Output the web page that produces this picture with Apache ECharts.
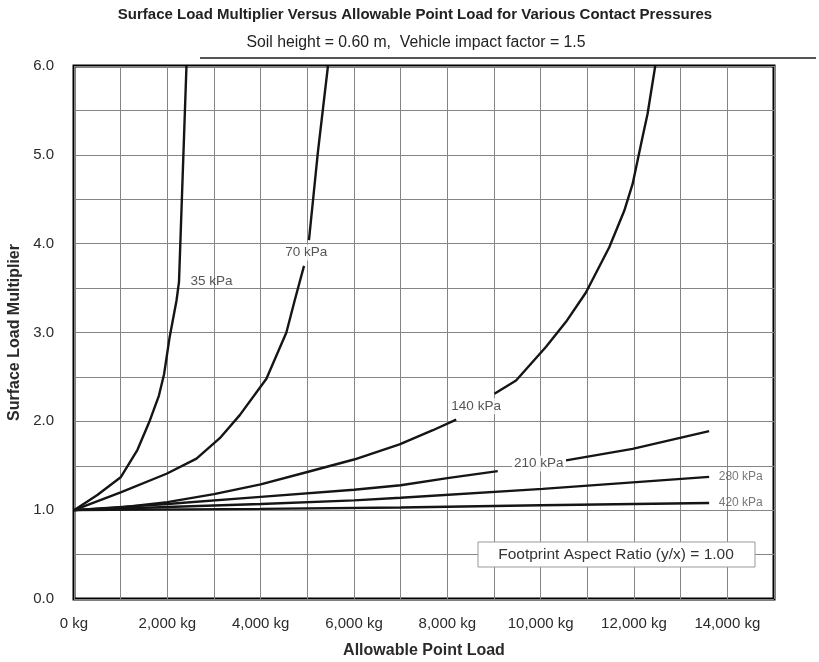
<!DOCTYPE html>
<html>
<head>
<meta charset="utf-8">
<script src="https://cdn.jsdelivr.net/npm/echarts@6/dist/echarts.min.js"></script>
<style>
html,body{margin:0;padding:0;background:#fff;}
#chart{width:819px;height:662px;}
</style>
</head>
<body>
<div id="chart"></div>
<script>
// ---- data ----
const GAP = null; // break in a curve where a label sits
const curveNames = ['35 kPa', '70 kPa', '140 kPa', '210 kPa', '280 kPa', '420 kPa'];
const c35 = [[0,1.0],[500,1.17],[1000,1.37],[1360,1.68],[1626,2.01],[1820,2.29],[1930,2.53],[2050,2.95],[2197,3.36],[2250,3.57],[2410,6.0]];
const c70 = [[0,1.0],[1000,1.2],[1983,1.41],[2625,1.58],[3124,1.81],[3552,2.07],[4123,2.48],[4551,3.0],[4729,3.36],[4929,3.75],GAP,[5035,4.04],[5228,5.04],[5442,6.0]];
const c140 = [[0,1.0],[1000,1.03],[2000,1.09],[3000,1.18],[4000,1.29],[5000,1.43],[6000,1.57],[6976,1.74],[7690,1.90],[8190,2.02],GAP,[9009,2.31],[9473,2.46],[10116,2.84],[10543,3.12],[10970,3.45],[11470,3.96],[11791,4.37],[11969,4.67],[12183,5.2],[12290,5.46],[12455,6.0]];
const c210 = [[0,1.0],[2000,1.07],[4000,1.15],[6000,1.23],[7000,1.28],[8000,1.36],[9080,1.44],GAP,[10543,1.56],[11969,1.69],[13610,1.89]];
const c280 = [[0,1.0],[2000,1.035],[4000,1.07],[6000,1.11],[7000,1.14],[10043,1.24],[13610,1.375]];
const c420 = [[0,1.0],[4000,1.015],[7000,1.03],[10000,1.055],[13610,1.08]];
const curves = [c35, c70, c140, c210, c280, c420];
// label anchor points (in data units: kg, multiplier)
const labelAnchors = [[2947,3.58],[4979,3.9],[8617,2.17],[9957,1.525],[14287,1.374],[14287,1.086]];
const xTicks = [0, 2000, 4000, 6000, 8000, 10000, 12000, 14000];
const yTicks = [0, 1, 2, 3, 4, 5, 6];
const titleText = 'Surface Load Multiplier Versus Allowable Point Load for Various Contact Pressures';
const subtitleText = 'Soil height = 0.60 m,  Vehicle impact factor = 1.5';
const noteText = 'Footprint Aspect Ratio (y/x) = 1.00';

// ---- chart ----
const FONT = 'Liberation Sans, Arial, sans-serif';
const chart = echarts.init(document.getElementById('chart'), null, {renderer: 'canvas'});

const lineSeries = curves.map((pts, i) => ({
  name: curveNames[i],
  type: 'line',
  data: pts.map(p => p === null ? ['-', '-'] : p),
  showSymbol: false,
  symbol: 'none',
  connectNulls: false,
  smooth: false,
  lineStyle: {color: '#151515', width: 2.4},
  z: 3,
  silent: true
}));

const labelSeries = {
  type: 'scatter',
  symbolSize: 0,
  z: 5,
  silent: true,
  data: labelAnchors.map((p, i) => {
    const small = i >= 4;
    return {
      name: curveNames[i],
      value: p,
      label: {
        show: true,
        position: 'inside',
        formatter: '{b}',
        fontFamily: FONT,
        fontSize: small ? 12 : 13.5,
        color: small ? '#555' : '#2a2a2a',
        backgroundColor: (i >= 1 && i <= 3) ? '#fff' : 'transparent',
        padding: [1, 2]
      }
    };
  })
};

const option = {
  backgroundColor: '#fff',
  animation: false,
  textStyle: {fontFamily: FONT},
  grid: {left: 74, right: 45, top: 66, bottom: 63, outerBoundsMode: 'none', containLabel: false, show: true, borderColor: '#000', borderWidth: 3, backgroundColor: 'transparent'},
  xAxis: {
    type: 'value', min: 0, max: 15000, interval: 1000,
    axisLine: {show: false}, axisTick: {show: false},
    splitLine: {show: true, lineStyle: {color: '#858585', width: 1}},
    axisLabel: {
      margin: 17, fontSize: 15, color: '#2a2a2a', fontFamily: FONT,
      formatter: v => xTicks.indexOf(v) >= 0 ? (v === 0 ? '0 kg' : v.toLocaleString('en-US') + ' kg') : ''
    },
    name: 'Allowable Point Load', nameLocation: 'middle', nameGap: 44,
    nameTextStyle: {fontSize: 16, fontWeight: 'bold', color: '#2a2a2a', fontFamily: FONT}
  },
  yAxis: {
    type: 'value', min: 0, max: 6, interval: 0.5,
    axisLine: {show: false}, axisTick: {show: false},
    splitLine: {show: true, lineStyle: {color: '#858585', width: 1}},
    axisLabel: {
      margin: 20, fontSize: 15, color: '#2a2a2a', fontFamily: FONT,
      formatter: v => yTicks.indexOf(v) >= 0 ? v.toFixed(1) : ''
    },
    name: 'Surface Load Multiplier', nameLocation: 'middle', nameGap: 48, nameRotate: 90,
    nameTextStyle: {fontSize: 16, fontWeight: 'bold', color: '#2a2a2a', fontFamily: FONT}
  },
  graphic: [
    {type: 'text', x: 415, y: 15, style: {text: titleText, fontFamily: FONT, fontSize: 15, fontWeight: 'bold', fill: '#222', align: 'center', verticalAlign: 'middle'}},
    {type: 'text', x: 416, y: 43, style: {text: subtitleText, fontFamily: FONT, fontSize: 15.8, fill: '#222', align: 'center', verticalAlign: 'middle'}},
    {type: 'line', shape: {x1: 200, y1: 58, x2: 816, y2: 58}, style: {stroke: '#555', lineWidth: 2}},
    {type: 'rect', z: 100, zlevel: 0, shape: {x: 478, y: 542, width: 277, height: 25}, style: {fill: '#fff', stroke: '#999', lineWidth: 1}},
    {type: 'text', z: 101, zlevel: 0, x: 616, y: 555, style: {text: noteText, fontFamily: FONT, fontSize: 15.5, fill: '#333', align: 'center', verticalAlign: 'middle'}}
  ],
  series: lineSeries.concat([labelSeries])
};
chart.setOption(option);
</script>
</body>
</html>
